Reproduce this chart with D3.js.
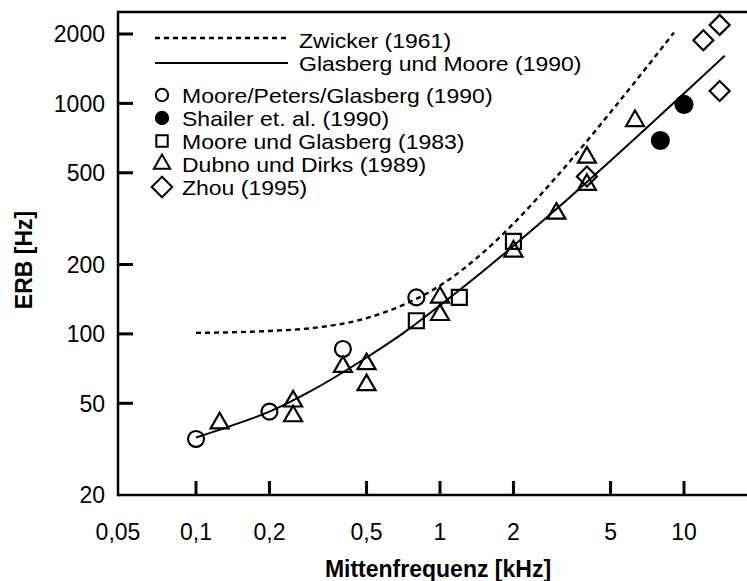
<!DOCTYPE html>
<html>
<head>
<meta charset="utf-8">
<script src="https://cdn.jsdelivr.net/npm/d3@7"></script>
<style>
  html, body { margin: 0; padding: 0; background: #fff; }
  svg text { font-family: "Liberation Sans", Arial, Helvetica, sans-serif; fill: #000; font-size: 23px; }
  svg text.leg { font-size: 20px; }
</style>
</head>
<body>
<div id="plot"></div>
<script>
// ticks
const freqTicks = [0.05, 0.1, 0.2, 0.5, 1, 2, 5, 10];
const freqLabels = ['0,05', '0,1', '0,2', '0,5', '1', '2', '5', '10'];
const erbTicks = [20, 50, 100, 200, 500, 1000, 2000];

// curves [kHz, Hz]
const zwicker = [[0.1, 101], [0.2, 103], [0.3, 106], [0.5, 117], [0.7, 133], [1, 162], [1.5, 225],
  [2, 301], [3, 480], [4, 686], [5, 916], [7, 1426], [9.1, 2030]];
const glasbergMoore = [[0.1, 35.5], [0.15, 41], [0.2, 46], [0.3, 57], [0.5, 79], [0.7, 100], [1, 133],
  [1.5, 187], [2, 241], [3, 348], [5, 564], [7, 780], [10, 1104], [14.7, 1610]];

// measured points
const moorePeters = [[0.1, 35], [0.2, 46], [0.4, 86], [0.8, 144]];
const shailer = [[8, 690], [10, 990]];
const mooreGlasberg83 = [[0.8, 114], [1.2, 144], [2, 252]];
const dubnoDirks = [[0.125, 41], [0.25, 51], [0.25, 44], [0.4, 72], [0.5, 74], [0.5, 60], [1, 144],
  [1, 121], [2, 228], [3, 333], [4, 583], [4, 444], [6.3, 840]];
const zhou = [[4, 482], [12, 1880], [14, 2190], [14, 1132]];

const lineNames = ['Zwicker (1961)', 'Glasberg und Moore (1990)'];
const pointNames = ['Moore/Peters/Glasberg (1990)', 'Shailer et. al. (1990)', 'Moore und Glasberg (1983)',
  'Dubno und Dirks (1989)', 'Zhou (1995)'];

const W = 747, H = 581;
const svg = d3.select('#plot').append('svg').attr('width', W).attr('height', H);

const x = d3.scaleLog().domain([0.1, 10]).range([196, 684]);
const y = d3.scaleLog().domain([20, 2000]).range([495, 34]);
const axisX = 118, axisY = 495, topY = 12;

// frame
svg.append('line').attr('x1', axisX).attr('x2', W).attr('y1', topY).attr('y2', topY)
  .attr('stroke', '#000').attr('stroke-width', 2.5);
svg.append('line').attr('x1', axisX).attr('x2', W).attr('y1', axisY).attr('y2', axisY)
  .attr('stroke', '#000').attr('stroke-width', 2.5);
svg.append('line').attr('x1', axisX).attr('x2', axisX).attr('y1', topY - 1.2).attr('y2', axisY + 1.2)
  .attr('stroke', '#000').attr('stroke-width', 2.5);

// x ticks
svg.selectAll('.xt').data(freqTicks.slice(1)).enter().append('line')
  .attr('x1', d => x(d)).attr('x2', d => x(d)).attr('y1', axisY).attr('y2', axisY - 14)
  .attr('stroke', '#000').attr('stroke-width', 3);
svg.selectAll('.xl').data(freqTicks).enter().append('text')
  .attr('x', (d, i) => i === 0 ? axisX : x(d)).attr('y', 540)
  .attr('text-anchor', 'middle')
  .text((d, i) => freqLabels[i]);

// y ticks
svg.selectAll('.yt').data(erbTicks.slice(1)).enter().append('line')
  .attr('x1', axisX).attr('x2', axisX + 15).attr('y1', d => y(d)).attr('y2', d => y(d))
  .attr('stroke', '#000').attr('stroke-width', 3);
svg.selectAll('.yl').data(erbTicks).enter().append('text')
  .attr('x', 105).attr('y', d => y(d)).attr('dy', '0.36em')
  .attr('text-anchor', 'end')
  .text(d => d);

// axis titles
svg.append('text').attr('x', 438).attr('y', 577).attr('text-anchor', 'middle')
  .style('font-weight', 'bold').text('Mittenfrequenz [kHz]');
svg.append('text').attr('transform', 'translate(32,260) rotate(-90)').attr('text-anchor', 'middle')
  .style('font-weight', 'bold').text('ERB [Hz]');

// curves
const line = d3.line().x(d => x(d[0])).y(d => y(d[1])).curve(d3.curveMonotoneX);
svg.append('path').attr('d', line(zwicker)).attr('fill', 'none')
  .attr('stroke', '#000').attr('stroke-width', 2.4).attr('stroke-dasharray', '5,4');
svg.append('path').attr('d', line(glasbergMoore)).attr('fill', 'none')
  .attr('stroke', '#000').attr('stroke-width', 2);

// symbols
const sym = [
  { type: d3.symbolCircle, size: 200, lsize: 120, fill: 'none', rot: 0 },
  { type: d3.symbolCircle, size: 225, lsize: 120, fill: '#000', rot: 0 },
  { type: d3.symbolSquare, size: 225, lsize: 130, fill: 'none', rot: 0 },
  { type: d3.symbolTriangle, size: 140, lsize: 115, fill: 'none', rot: 0 },
  { type: d3.symbolSquare, size: 200, lsize: 210, fill: 'none', rot: 45 }
];
const sets = [moorePeters, shailer, mooreGlasberg83, dubnoDirks, zhou];

sets.forEach((pts, k) => {
  const s = sym[k];
  svg.selectAll('.p' + k).data(pts).enter().append('path')
    .attr('d', d3.symbol().type(s.type).size(s.size)())
    .attr('transform', d => `translate(${x(d[0])},${y(d[1])}) rotate(${s.rot})`)
    .attr('fill', s.fill).attr('stroke', '#000').attr('stroke-width', 2.2);
});

// legend: lines
const lg = svg.append('g');
lg.append('line').attr('x1', 155).attr('x2', 288).attr('y1', 38).attr('y2', 38)
  .attr('stroke', '#000').attr('stroke-width', 2.4).attr('stroke-dasharray', '5,4');
lg.append('line').attr('x1', 155).attr('x2', 288).attr('y1', 63).attr('y2', 63)
  .attr('stroke', '#000').attr('stroke-width', 2);
lg.selectAll('.ln').data(lineNames).enter().append('text').attr('class', 'leg')
  .attr('transform', (d, i) => `translate(299,${48 + i * 23}) scale(1.15,1)`).text(d => d);

// legend: markers
pointNames.forEach((name, k) => {
  const s = sym[k];
  const by = 103 + k * 23;
  lg.append('path')
    .attr('d', d3.symbol().type(s.type).size(s.lsize)())
    .attr('transform', `translate(162,${by - 8}) rotate(${s.rot})`)
    .attr('fill', s.fill).attr('stroke', '#000').attr('stroke-width', 2);
  lg.append('text').attr('class', 'leg')
    .attr('transform', `translate(182,${by}) scale(1.15,1)`).text(name);
});
</script>
</body>
</html>
